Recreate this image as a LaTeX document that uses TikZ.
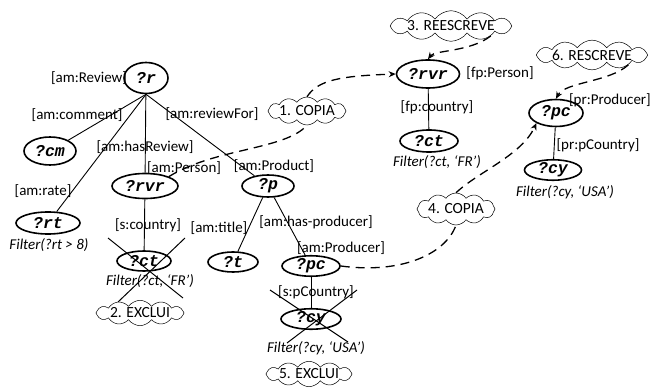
\documentclass[tikz,border=0pt]{standalone}
\usepackage{fontspec}
\setmainfont{Carlito}
\newfontfamily\codefont{Liberation Mono}
\usetikzlibrary{shapes.geometric,shapes.symbols,arrows.meta}
\tikzset{
  var/.style={ellipse, draw=black, line width=1.6pt, inner sep=0pt,
    font=\codefont\bfseries\itshape\fontsize{16.5}{16.5}\selectfont},
  lbl/.style={inner sep=0pt, font=\fontsize{15}{15}\selectfont},
  flt/.style={inner sep=0pt, font=\itshape\fontsize{15}{15}\selectfont},
  edge/.style={draw=black, line width=0.9pt},
  xmark/.style={draw=black, line width=1pt},
  op/.style={cloud, cloud puffs=12, cloud puff arc=110, cloud ignores aspect,
    draw=black, line width=0.5pt, fill=white, inner sep=0pt,
    font=\fontsize{15.5}{15.5}\selectfont},
  flow/.style={draw=black, line width=1.3pt, dash pattern=on 9pt off 6pt},
  tip/.style={-{Stealth[length=7pt,width=6pt]}}
}
\begin{document}
\begin{tikzpicture}[x=1pt,y=-1pt]
\useasboundingbox (0,0) rectangle (653,387);

% ---- left query graph ----
\node[var, minimum width=44, minimum height=31] (r)   at (146,78)  {?r};
\node[var, minimum width=52, minimum height=28] (cm)  at (50,151)  {?cm};
\node[var, minimum width=66, minimum height=25] (rvr) at (145,186) {?rvr};
\node[var, minimum width=64, minimum height=22] (rt)  at (48,223)  {?rt};
\node[var, minimum width=54, minimum height=20] (ct)  at (144,261) {?ct};
\node[var, minimum width=52, minimum height=22] (p)   at (268,186) {?p};
\node[var, minimum width=50, minimum height=20] (t)   at (233,262) {?t};
\node[var, minimum width=58, minimum height=20] (pc)  at (311,266) {?pc};
\node[var, minimum width=60, minimum height=20] (cy)  at (311,319) {?cy};

\draw[edge] (r.south) -- (cm);
\draw[edge] (r.south) -- (rt);
\draw[edge] (r) -- (rvr);
\draw[edge] (r.south) -- (p);
\draw[edge] (rvr) -- (ct);
\draw[edge] (p) -- (t);
\draw[edge] (p) -- (pc);
\draw[edge] (pc) -- (cy);

\node[lbl] (lReview)   at (89,78)   {[am:Review]};
\node[lbl] (lComment)  at (77,115)  {[am:comment]};
\node[lbl] (lHasRev)   at (145,147) {[am:hasReview]};
\node[lbl] (lRevFor)   at (212,114) {[am:reviewFor]};
\node[lbl] (lPerson)   at (184,168) {[am:Person]};
\node[lbl] (lRate)     at (43,191)  {[am:rate]};
\node[lbl] (lProduct)  at (274,166) {[am:Product]};
\node[flt] (fRt)       at (49,245)  {Filter(?rt > 8)};
\node[lbl] (lCountry)  at (148,225) {[s:country]};
\node[flt] (fCt)       at (150,281) {Filter(?ct, ‘FR’)};
\node[lbl] (lTitle)    at (219,228) {[am:title]};
\node[lbl] (lHasProd)  at (316,222) {[am:has-producer]};
\node[lbl] (lProducer) at (341,248) {[am:Producer]};
\node[lbl] (lPCountry) at (316,292) {[s:pCountry]};
\node[flt] (fCy)       at (316,348) {Filter(?cy, ‘USA’)};

% removed patterns
\draw[xmark] (108,238) -- (183,298);
\draw[xmark] (185,238) -- (118,302);
\draw[xmark] (270,290) -- (348,342);
\draw[xmark] (357,290) -- (287,343);

% ---- right fragments ----
\node[var, minimum width=63, minimum height=28] (rvrB) at (428,74)  {?rvr};
\node[var, minimum width=58, minimum height=22] (ctB)  at (429,141) {?ct};
\node[var, minimum width=54, minimum height=27] (pcB)  at (556,113) {?pc};
\node[var, minimum width=57, minimum height=17] (cyB)  at (553,170) {?cy};

\draw[edge] (rvrB) -- (ctB);
\draw[edge] (pcB) -- (cyB);

\node[lbl] (lFpPerson)  at (500,73)  {[fp:Person]};
\node[lbl] (lFpCountry) at (437,107) {[fp:country]};
\node[flt] (fCtB)       at (437,162) {Filter(?ct, ‘FR’)};
\node[lbl, anchor=east] (lPrProd) at (651,100) {[pr:Producer]};
\node[lbl] (lPrCountry) at (598,145) {[pr:pCountry]};
\node[flt] (fCyB)       at (565,192) {Filter(?cy, ‘USA’)};

% ---- operations ----
\node[op, minimum width=72, minimum height=28] (op1) at (307,111) {1. COPIA};
\node[op, minimum width=88, minimum height=24] (op2) at (140,313) {2. EXCLUI};
\node[op, minimum width=96, minimum height=28] (op3) at (451,26)  {3. REESCREVE};
\node[op, minimum width=76, minimum height=32] (op4) at (456,209) {4. COPIA};
\node[op, minimum width=86, minimum height=25] (op5) at (309,374) {5. EXCLUI};
\node[op, minimum width=86, minimum height=24] (op6) at (592,55)  {6. RESCREVE};

\draw[flow] (rvr.north east) .. controls (215,148) and (285,150) .. (op1.south);
\draw[flow, tip] (op1.north) .. controls (318,80) and (340,76) .. (rvrB.west);
\draw[flow, tip] (op3.south east) .. controls (470,52) and (435,50) .. (rvrB.north);
\draw[flow, tip] (op6.south east) .. controls (610,82) and (565,82) .. (pcB.north);
\draw[flow] (pc.east) .. controls (400,274) and (445,255) .. (op4.south);
\draw[flow, tip] (op4.north) .. controls (478,172) and (522,155) .. (pcB.south west);
\end{tikzpicture}
\end{document}
